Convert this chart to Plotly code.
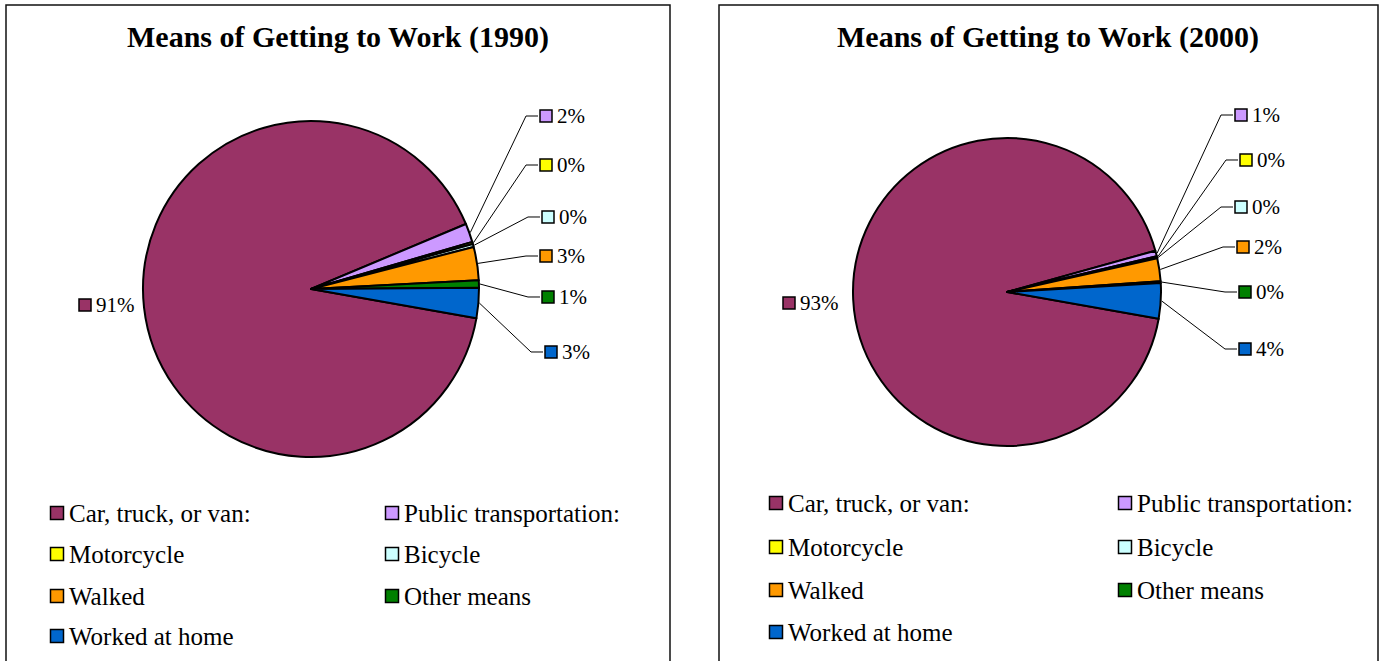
import math
import plotly.graph_objects as go

# ---------------- data ----------------
categories = ["Car, truck, or van:", "Public transportation:", "Motorcycle",
              "Bicycle", "Walked", "Other means", "Worked at home"]
share_1990 = [90.9, 1.8, 0.2, 0.3, 3.2, 0.7, 2.9]
share_2000 = [92.9, 0.6, 0.1, 0.1, 2.4, 0.2, 3.7]
years = ["1990", "2000"]
colors = ["#993366", "#CC99FF", "#FFFF00", "#CCFFFF", "#FF9900", "#008000", "#0066CC"]

# ---------------- layout constants (pixels) ----------------
W, H = 1379, 661
FONT = "Liberation Serif, Times New Roman, serif"
ROTATION = 100

panels = [
    dict(values=share_1990, box=(6, 670), center=(311, 289), r=168, title_x=338,
         label_pos=[(85, 305), (546, 116), (546, 165), (548, 217), (546, 256), (548, 297), (551, 352)],
         legend_rows=[513, 554, 596, 636], legend_cols=[57, 392]),
    dict(values=share_2000, box=(719, 1378), center=(1007, 292), r=154, title_x=1048,
         label_pos=[(789, 303), (1241, 115), (1246, 160), (1241, 207), (1243, 247), (1245, 292), (1245, 349)],
         legend_rows=[503, 547, 590, 632], legend_cols=[776, 1125]),
]


def px(x):
    return x / W


def py(y):
    return 1 - y / H


fig = go.Figure()
shapes = []
annotations = []

for p, year in zip(panels, years):
    x0, x1 = p["box"]
    shapes.append(dict(type="rect", xref="paper", yref="paper",
                       x0=px(x0), x1=px(x1), y0=py(5), y1=py(H + 20),
                       line=dict(color="#111", width=1.5), fillcolor="rgba(0,0,0,0)", layer="below"))
    annotations.append(dict(xref="paper", yref="paper", x=px(p["title_x"]), y=py(37),
                            xanchor="center", yanchor="middle", showarrow=False,
                            text="<b>Means of Getting to Work (%s)</b>" % year,
                            font=dict(family=FONT, size=30, color="black")))

    cx, cy = p["center"]
    r = p["r"]
    fig.add_trace(go.Pie(
        labels=categories, values=p["values"], sort=False, direction="clockwise",
        rotation=ROTATION, textinfo="none", showlegend=False,
        marker=dict(colors=colors, line=dict(color="black", width=2)),
        domain=dict(x=[px(cx - r), px(cx + r)], y=[py(cy + r), py(cy - r)]),
        hovertemplate="%{label}: %{percent}<extra></extra>",
    ))

    total = sum(p["values"])
    start = ROTATION
    for i, v in enumerate(p["values"]):
        span = v / total * 360.0
        mid = math.radians(start + span / 2)
        start += span
        ex = cx + (r + 1) * math.sin(mid)
        ey = cy - (r + 1) * math.cos(mid)
        sx, sy = p["label_pos"][i]
        pct = "%d%%" % round(v / total * 100)
        if i > 0:
            end_x = sx - 8
            elbow_x = sx - 20
            shapes.append(dict(type="path", xref="paper", yref="paper",
                               path="M %f %f L %f %f L %f %f" % (px(ex), py(ey), px(elbow_x), py(sy), px(end_x), py(sy)),
                               line=dict(color="black", width=1)))
        shapes.append(dict(type="rect", xref="paper", yref="paper",
                           x0=px(sx - 6), x1=px(sx + 6), y0=py(sy + 6), y1=py(sy - 6),
                           fillcolor=colors[i], line=dict(color="black", width=1.5)))
        annotations.append(dict(xref="paper", yref="paper", x=px(sx + 9), y=py(sy),
                                xanchor="left", yanchor="middle", showarrow=False, text=pct,
                                font=dict(family=FONT, size=21, color="black")))

    # legend (two columns)
    for i, name in enumerate(categories):
        row, col = divmod(i, 2)
        lx = p["legend_cols"][col]
        ly = p["legend_rows"][row]
        shapes.append(dict(type="rect", xref="paper", yref="paper",
                           x0=px(lx - 6.5), x1=px(lx + 6.5), y0=py(ly + 6.5), y1=py(ly - 6.5),
                           fillcolor=colors[i], line=dict(color="black", width=1.5)))
        annotations.append(dict(xref="paper", yref="paper", x=px(lx + 10), y=py(ly),
                                xanchor="left", yanchor="middle", showarrow=False, text=name,
                                font=dict(family=FONT, size=25, color="black")))

fig.update_layout(width=W, height=H, margin=dict(l=0, r=0, t=0, b=0),
                  paper_bgcolor="white", plot_bgcolor="white",
                  shapes=shapes, annotations=annotations)

fig.write_html("out.html", config={"displayModeBar": False},
               post_script="document.body.style.margin='0';")
